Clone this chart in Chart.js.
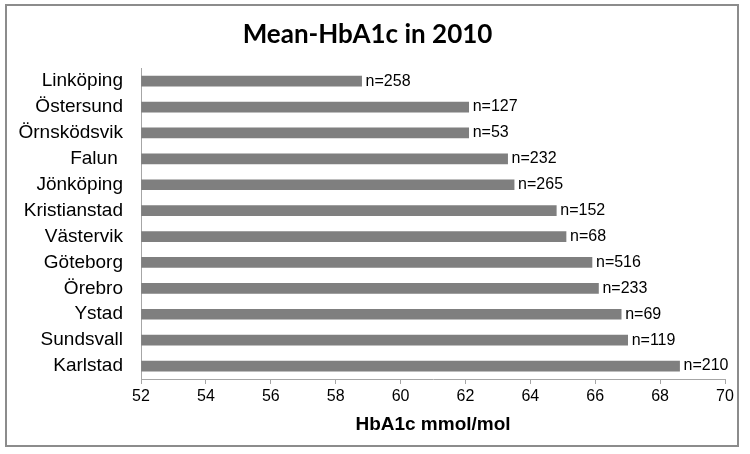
<!DOCTYPE html>
<html>
<head>
<meta charset="utf-8">
<script src="https://cdn.jsdelivr.net/npm/chart.js@4"></script>
<style>
  html, body { margin: 0; padding: 0; background: #fff; }
  #wrap { position: relative; width: 750px; height: 454px; }
  #frame { position: absolute; left: 5px; top: 4px; width: 730px; height: 439px; border: 2px solid #8c8c8c; }
  canvas { position: absolute; left: 0; top: 0; }
</style>
</head>
<body>
<div id="wrap">
  <div id="frame"></div>
  <canvas id="canvas" width="750" height="454"></canvas>
</div>
<script>
var clinics = ['Linköping', 'Östersund', 'Örnsködsvik', 'Falun ', 'Jönköping', 'Kristianstad', 'Västervik', 'Göteborg', 'Örebro', 'Ystad', 'Sundsvall', 'Karlstad'];
var meanHbA1c = [58.8, 62.1, 62.1, 63.3, 63.5, 64.8, 65.1, 65.9, 66.1, 66.8, 67.0, 68.6];
var patients = [258, 127, 53, 232, 265, 152, 68, 516, 233, 69, 119, 210];

var sans = '"Liberation Sans", Arial, sans-serif';

// writes "n=..." just past the end of each bar
var nLabels = {
    id: 'nLabels',
    afterDatasetsDraw: function(chart) {
        var ctx = chart.ctx;
        var meta = chart.getDatasetMeta(0);
        ctx.save();
        ctx.font = '16px ' + sans;
        ctx.fillStyle = '#000';
        ctx.textAlign = 'left';
        ctx.textBaseline = 'middle';
        meta.data.forEach(function(bar, i) {
            ctx.fillText('n=' + patients[i], bar.x + 4, bar.y);
        });
        ctx.restore();
    }
};

var config = {
    type: 'bar',
    data: {
        labels: clinics,
        datasets: [{
            label: 'Mean-HbA1c',
            data: meanHbA1c,
            backgroundColor: '#7f7f7f',
            borderWidth: 0,
            barThickness: 10,
            base: 52
        }]
    },
    options: {
        indexAxis: 'y',
        responsive: false,
        animation: false,
        layout: { padding: { left: 10, right: 25, top: 4, bottom: 18 } },
        plugins: {
            legend: { display: false },
            tooltip: { enabled: false },
            title: {
                display: true,
                text: 'Mean-HbA1c in 2010',
                color: '#000',
                font: { family: 'Lato, "Open Sans", sans-serif', size: 26, weight: 'bold' },
                padding: { top: 15, bottom: 18 }
            }
        },
        scales: {
            x: {
                min: 52,
                max: 70,
                ticks: {
                    stepSize: 2,
                    color: '#000',
                    padding: 3,
                    font: { family: sans, size: 16 }
                },
                grid: { display: true, drawOnChartArea: false, drawTicks: true, tickLength: 5, color: '#a6a6a6' },
                border: { display: true, color: '#a6a6a6' },
                title: {
                    display: true,
                    text: 'HbA1c mmol/mol',
                    color: '#000',
                    font: { family: sans, size: 19, weight: 'bold' },
                    padding: { top: 4, bottom: 0 }
                }
            },
            y: {
                ticks: {
                    color: '#000',
                    padding: 18,
                    font: { family: sans, size: 19 }
                },
                grid: { display: false, drawTicks: false },
                border: { display: true, color: '#a6a6a6' },
                afterFit: function(scale) { scale.width = 131; }
            }
        }
    },
    plugins: [nLabels]
};

window.onload = function() {
    var ctx = document.getElementById('canvas').getContext('2d');
    window.myBar = new Chart(ctx, config);
};
</script>
</body>
</html>
